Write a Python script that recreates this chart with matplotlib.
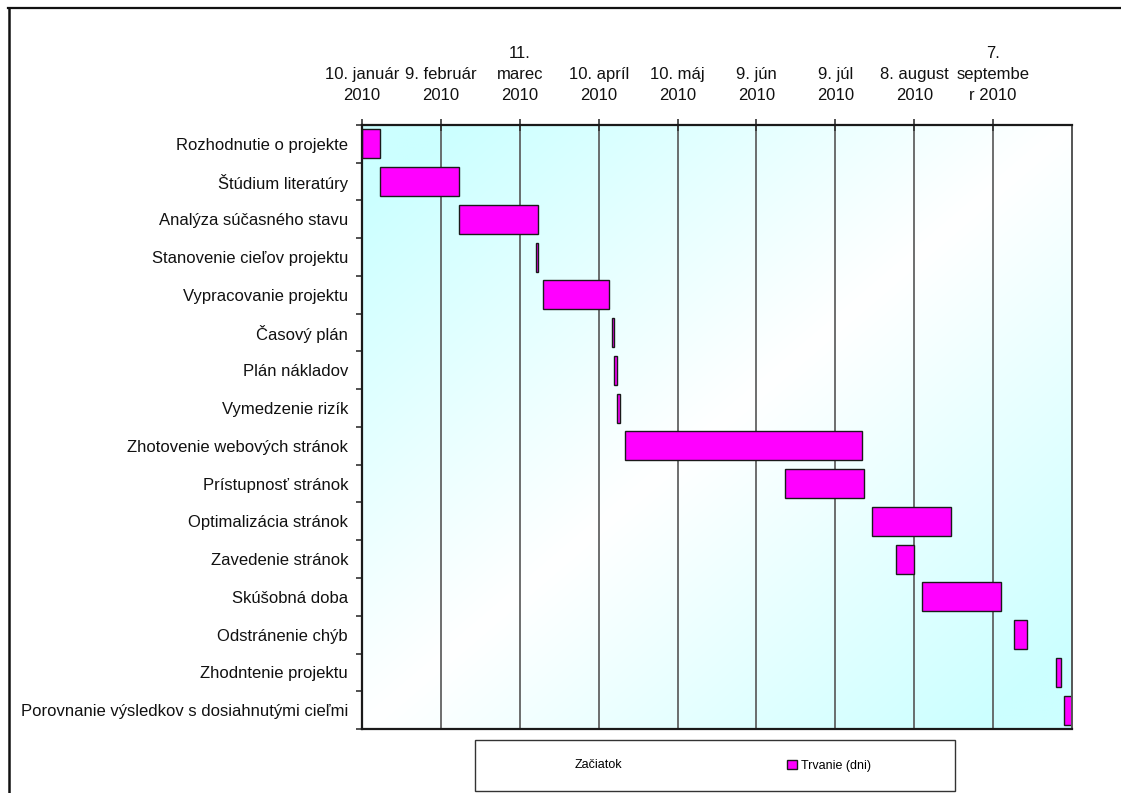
import numpy as np
import pandas as pd
import matplotlib
matplotlib.use("Agg")
import matplotlib.pyplot as plt
import matplotlib.dates as mdates
from matplotlib.lines import Line2D
from matplotlib.patches import Rectangle

plt.rcParams['font.family'] = ['Liberation Sans', 'DejaVu Sans']

# Project tasks (top to bottom)
tasks = [
    "Rozhodnutie o projekte",
    "Štúdium literatúry",
    "Analýza súčasného stavu",
    "Stanovenie cieľov projektu",
    "Vypracovanie projektu",
    "Časový plán",
    "Plán nákladov",
    "Vymedzenie rizík",
    "Zhotovenie webových stránok",
    "Prístupnosť stránok",
    "Optimalizácia stránok",
    "Zavedenie stránok",
    "Skúšobná doba",
    "Odstránenie chýb",
    "Zhodntenie projektu",
    "Porovnanie výsledkov s dosiahnutými cieľmi",
]

# Start dates (Začiatok) and durations in days (Trvanie)
start_dates = [
    "2010-01-10", "2010-01-17", "2010-02-16", "2010-03-17",
    "2010-03-20", "2010-04-15", "2010-04-16", "2010-04-17",
    "2010-04-20", "2010-06-20", "2010-07-23", "2010-08-01",
    "2010-08-11", "2010-09-15", "2010-10-01", "2010-10-04",
]
durations = [7, 30, 30, 1, 25, 1, 1, 1, 90, 30, 30, 7, 30, 5, 2, 3]

# Date axis: first day, last day, tick step and tick labels
axis_start = "2010-01-10"
axis_end = "2010-10-07"
tick_step_days = 30
tick_labels = [
    "10. január\n2010", "9. február\n2010", "11.\nmarec\n2010",
    "10. apríl\n2010", "10. máj\n2010", "9. jún\n2010",
    "9. júl\n2010", "8. august\n2010", "7.\nseptembe\nr 2010",
]

W, H = 1121, 793
fig = plt.figure(figsize=(W / 100, H / 100), dpi=100)
fig.patch.set_facecolor("white")

ax_l, ax_r, ax_t, ax_b = 362, 1072, 125, 729
ax = fig.add_axes([ax_l / W, 1 - ax_b / H, (ax_r - ax_l) / W, (ax_b - ax_t) / H])

starts = mdates.date2num(pd.to_datetime(start_dates).to_pydatetime())
x0 = mdates.date2num(pd.Timestamp(axis_start).to_pydatetime())
x1 = mdates.date2num(pd.Timestamp(axis_end).to_pydatetime())
ypos = np.arange(len(tasks))

# diagonal cyan-white-cyan background
ny, nx = 200, 300
gx, gy = np.meshgrid(np.linspace(0, 1, nx), np.linspace(0, 1, ny))
t = np.abs((gx + gy) - 1.0)  # 1 at top-left / bottom-right corners, 0 on the anti-diagonal
t = np.clip(t * 1.15, 0, 1)
cyan = np.array([0.80, 1.0, 1.0])
white = np.array([1.0, 1.0, 1.0])
img = white[None, None, :] + (cyan - white)[None, None, :] * t[..., None]
ax.imshow(img, extent=[0, 1, 0, 1], transform=ax.transAxes, aspect="auto",
          zorder=0, interpolation="bilinear", origin="upper")

bar_h = 0.77
b1 = ax.barh(ypos, starts - x0, left=x0, height=bar_h, color="none",
             edgecolor="none", label="Začiatok", zorder=2)
b2 = ax.barh(ypos, durations, left=starts, height=bar_h, color="#ff00ff",
             edgecolor="#1a1a1a", linewidth=1.0, label="Trvanie (dni)", zorder=2)

ax.set_xlim(x0, x1)
ax.set_ylim(len(tasks) - 0.5, -0.5)

ticks = np.arange(x0, x1 + 0.1, tick_step_days)[:len(tick_labels)]
ax.xaxis.tick_top()
ax.set_xticks(ticks)
ax.set_xticklabels(tick_labels, fontsize=12, linespacing=1.5, color="#111111")
ax.tick_params(axis="x", which="major", direction="inout", length=8, width=1.2,
               pad=12, colors="#333333", labelcolor="#111111")

ax.set_yticks(ypos)
ax.set_yticklabels(tasks, fontsize=12, color="#111111")
ax.set_yticks(np.arange(-0.5, len(tasks), 1.0), minor=True)
ax.tick_params(axis="y", which="major", length=0, pad=10)
ax.tick_params(axis="y", which="minor", direction="out", length=4, width=1.2,
               colors="#333333")

ax.set_axisbelow(True)
ax.grid(axis="x", color="#555555", linewidth=1.2)
ax.grid(axis="y", visible=False)

for side in ["top", "left", "bottom"]:
    ax.spines[side].set_color("#1a1a1a")
    ax.spines[side].set_linewidth(1.6)
ax.spines["right"].set_color("#555555")
ax.spines["right"].set_linewidth(1.4)

# chart area border
fig.add_artist(Line2D([8 / W, 1.0], [1 - 8 / H, 1 - 8 / H], transform=fig.transFigure,
                      color="#111111", linewidth=1.6))
fig.add_artist(Line2D([9 / W, 9 / W], [1 - 8 / H, 0.0], transform=fig.transFigure,
                      color="#111111", linewidth=1.8))

# legend with its own frame
lx0, lx1, ly0, ly1 = 475, 955, 740, 791
fig.add_artist(Rectangle((lx0 / W, 1 - ly1 / H), (lx1 - lx0) / W, (ly1 - ly0) / H,
                         transform=fig.transFigure, facecolor="white",
                         edgecolor="#333333", linewidth=1.0))
fig.legend(handles=[b1, b2], loc="center",
           bbox_to_anchor=(716 / W, 1 - 765.5 / H), ncol=2, frameon=False,
           fontsize=9, handlelength=0.75, handleheight=0.75, handletextpad=0.35,
           columnspacing=13.2)

fig.savefig("out.png", dpi=100)
